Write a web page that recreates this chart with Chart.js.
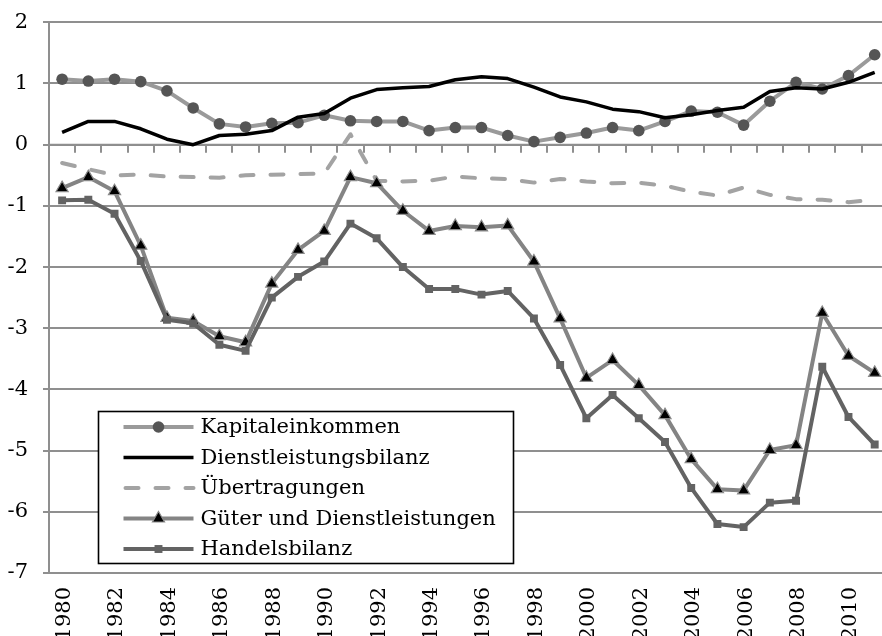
<!DOCTYPE html>
<html><head><meta charset="utf-8">
<script src="https://cdn.jsdelivr.net/npm/chart.js@4.4.1/dist/chart.umd.min.js"></script>
<style>
html,body{margin:0;padding:0;overflow:hidden;background:#fff}
#wrap{width:882px;height:636px;overflow:hidden;position:relative;background:#fff}
canvas{display:block}
</style>
</head><body>
<div id="wrap"><canvas id="c" width="896" height="650"></canvas></div>
<script>
const years = ['1980','1981','1982','1983','1984','1985','1986','1987','1988','1989','1990','1991','1992','1993','1994','1995','1996','1997','1998','1999','2000','2001','2002','2003','2004','2005','2006','2007','2008','2009','2010','2011'];
const kapitaleinkommen = [1.07,1.04,1.07,1.03,0.88,0.60,0.34,0.29,0.35,0.36,0.48,0.39,0.38,0.38,0.23,0.28,0.28,0.15,0.05,0.12,0.19,0.28,0.23,0.38,0.55,0.53,0.32,0.71,1.02,0.91,1.13,1.47];
const dienstleistungsbilanz = [0.20,0.38,0.38,0.26,0.09,0.00,0.15,0.17,0.23,0.45,0.51,0.76,0.90,0.93,0.95,1.06,1.11,1.08,0.94,0.78,0.70,0.58,0.54,0.44,0.49,0.56,0.61,0.87,0.93,0.91,1.02,1.18];
const uebertragungen = [-0.30,-0.40,-0.50,-0.49,-0.52,-0.53,-0.54,-0.50,-0.49,-0.48,-0.47,0.17,-0.59,-0.60,-0.59,-0.52,-0.55,-0.56,-0.62,-0.56,-0.60,-0.63,-0.62,-0.67,-0.77,-0.83,-0.70,-0.82,-0.89,-0.90,-0.94,-0.90];
const gueterDienst = [-0.71,-0.53,-0.76,-1.65,-2.83,-2.88,-3.13,-3.23,-2.27,-1.72,-1.41,-0.53,-0.63,-1.08,-1.41,-1.33,-1.35,-1.32,-1.91,-2.84,-3.81,-3.52,-3.93,-4.42,-5.14,-5.63,-5.65,-4.99,-4.91,-2.75,-3.45,-3.73];
const handelsbilanz = [-0.91,-0.90,-1.13,-1.90,-2.86,-2.92,-3.27,-3.37,-2.50,-2.16,-1.91,-1.29,-1.53,-2.00,-2.36,-2.36,-2.45,-2.39,-2.84,-3.60,-4.47,-4.09,-4.47,-4.86,-5.61,-6.20,-6.25,-5.85,-5.82,-3.63,-4.45,-4.90];
const seriesNames = ['Kapitaleinkommen','Dienstleistungsbilanz','Übertragungen','Güter und Dienstleistungen','Handelsbilanz'];
const yMin = -7, yMax = 2, yStep = 1;
const xLabelEvery = 2;

const FONT = '"DejaVu Serif", serif';
const GRID = '#8f8f8f';

const datasets = [
  {label: seriesNames[0], data: kapitaleinkommen, borderColor:'#9a9a9a', borderWidth:4,
   pointStyle:'circle', pointRadius:5.8, pointBackgroundColor:'#555555', pointBorderColor:'#555555', pointBorderWidth:0, order:5},
  {label: seriesNames[1], data: dienstleistungsbilanz, borderColor:'#000000', borderWidth:3.5,
   pointRadius:0, order:4},
  {label: seriesNames[2], data: uebertragungen, borderColor:'#a3a3a3', borderWidth:4, borderDash:[13,17], borderCapStyle:'round',
   pointRadius:0, order:3},
  {label: seriesNames[3], data: gueterDienst, borderColor:'#848484', borderWidth:4,
   pointStyle:'triangle', pointRadius:7, pointBackgroundColor:'#000000', pointBorderColor:'#8a8a8a', pointBorderWidth:1.2, order:2},
  {label: seriesNames[4], data: handelsbilanz, borderColor:'#636363', borderWidth:4,
   pointStyle:'rect', pointRadius:5.6, pointBackgroundColor:'#636363', pointBorderColor:'#636363', pointBorderWidth:0, order:1}
];
datasets.forEach(d => { d.tension = 0; d.fill = false; d.borderJoinStyle = 'round'; });

const zeroTicks = {
  id:'zeroTicks',
  beforeDatasetsDraw(chart){
    const x = chart.scales.x, y = chart.scales.y, ctx = chart.ctx;
    const y0 = y.getPixelForValue(0);
    ctx.save();
    ctx.strokeStyle = GRID; ctx.lineWidth = 2;
    ctx.beginPath();
    ctx.moveTo(x.left, y0); ctx.lineTo(x.right, y0);
    for (let i = 0; i <= years.length; i++) {
      const px = Math.round(x.getPixelForValue(i - 0.5));
      ctx.moveTo(px, y0); ctx.lineTo(px, y0 + 8);
    }
    ctx.stroke();
    ctx.restore();
  }
};

const rotatedXLabels = {
  id:'rotatedXLabels',
  afterDraw(chart){
    const x = chart.scales.x, ctx = chart.ctx, ca = chart.chartArea;
    ctx.save();
    ctx.font = '21px ' + FONT;
    ctx.fillStyle = '#000';
    years.forEach((lab, i) => {
      if (i % xLabelEvery !== 0) return;
      ctx.save();
      ctx.translate(x.getPixelForValue(i) + 2.5, ca.bottom + 14);
      ctx.rotate(-Math.PI / 2);
      ctx.textAlign = 'right';
      ctx.textBaseline = 'middle';
      ctx.fillText(lab, 0, 0);
      ctx.restore();
    });
    ctx.restore();
  }
};

const boxLegend = {
  id:'boxLegend',
  afterDraw(chart){
    const ctx = chart.ctx, ca = chart.chartArea;
    ctx.save();
    ctx.font = '21px ' + FONT;
    let maxW = 0;
    seriesNames.forEach(n => { maxW = Math.max(maxW, ctx.measureText(n).width); });
    const bx = Math.round(ca.left + 49) + 0.5, by = Math.round(ca.top + 389) + 0.5;
    const rowH = 30.5, textX = bx + 102;
    const bw = Math.round(102 + maxW + 18), bh = 152;
    ctx.fillStyle = '#fff';
    ctx.fillRect(bx, by, bw, bh);
    ctx.strokeStyle = '#000'; ctx.lineWidth = 1.6;
    ctx.strokeRect(bx, by, bw, bh);
    chart.data.datasets.forEach((d, i) => {
      const cy = by + 15.5 + i * rowH;
      ctx.save();
      ctx.strokeStyle = d.borderColor; ctx.lineWidth = d.borderWidth;
      ctx.lineCap = d.borderCapStyle || 'butt';
      ctx.setLineDash(d.borderDash || []);
      if (d.borderDash) ctx.lineDashOffset = -2;
      ctx.beginPath(); ctx.moveTo(bx + 25, cy); ctx.lineTo(bx + 95, cy); ctx.stroke();
      ctx.restore();
      if (d.pointRadius > 0) {
        ctx.save();
        ctx.fillStyle = d.pointBackgroundColor; ctx.strokeStyle = d.pointBorderColor;
        ctx.lineWidth = d.pointBorderWidth;
        Chart.helpers.drawPoint(ctx, {pointStyle: d.pointStyle, radius: d.pointRadius, rotation: 0, borderWidth: d.pointBorderWidth}, bx + 60, cy);
        ctx.restore();
      }
      ctx.fillStyle = '#000';
      ctx.textAlign = 'left';
      ctx.textBaseline = 'alphabetic';
      ctx.fillText(d.label, textX, cy + 6);
    });
    ctx.restore();
  }
};

new Chart(document.getElementById('c'), {
  type:'line',
  data:{labels: years, datasets},
  plugins:[zeroTicks, rotatedXLabels, boxLegend],
  options:{
    responsive:false, animation:false,
    layout:{padding:{top:22.3, right:1, left:0, bottom:0}},
    plugins:{legend:{display:false}, tooltip:{enabled:false}},
    scales:{
      x:{
        offset:true,
        grid:{display:false, drawOnChartArea:false, drawTicks:false},
        border:{display:false},
        ticks:{display:false},
        afterFit:(s) => { s.height = 77; }
      },
      y:{
        min:yMin, max:yMax,
        ticks:{stepSize:yStep, color:'#000', padding:15, font:{family:FONT, size:21}},
        grid:{color:GRID, lineWidth:2, tickLength:6, tickColor:GRID},
        border:{display:true, color:GRID, width:2},
        afterFit:(s) => { s.width = 49; s.paddingTop = 0; s.paddingBottom = 0; }
      }
    }
  }
});
</script>
</body></html>
